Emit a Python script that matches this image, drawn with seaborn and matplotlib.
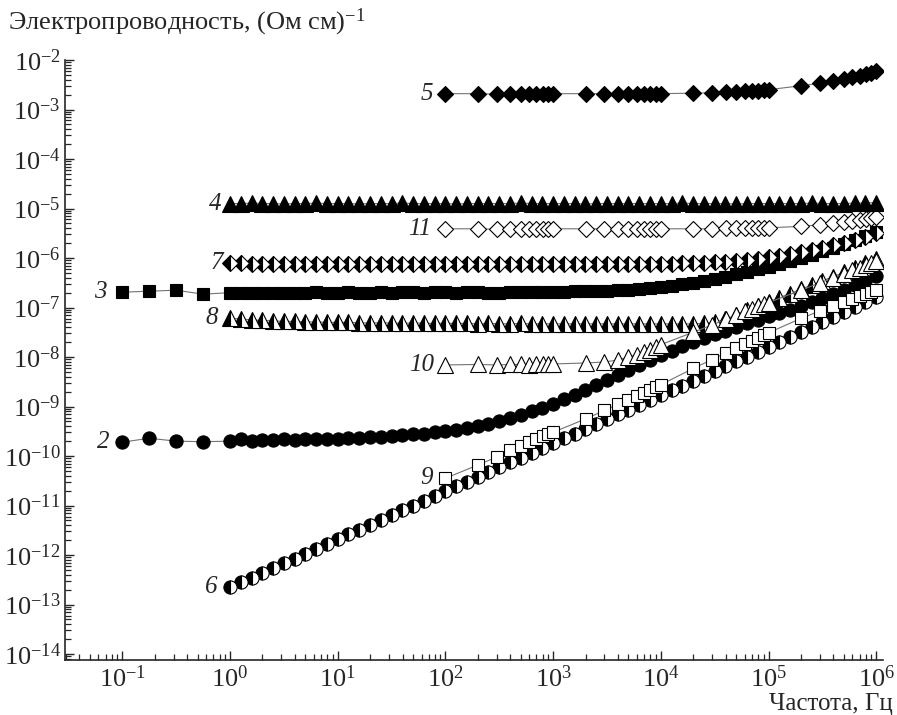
import numpy as np
import matplotlib
matplotlib.use('Agg')
import matplotlib.pyplot as plt
import matplotlib.ticker as mticker
import seaborn as sns
import pandas as pd

# частоты: низкочастотные точки, плотная сетка 10 точек/декада, сетка 1..9 x 10^n
f_low = [0.1, 0.178, 0.316, 0.562]
f_dense = np.logspace(0, 6, 61)
f_lin = [k * 10.0 ** n for n in range(2, 6) for k in range(1, 10)] + [1e6]

# lg(sigma), (Ом см)^-1
lg_s2_low = [-9.72, -9.64, -9.70, -9.71]
lg_s2 = [-9.70, -9.66, -9.69, -9.67, -9.68, -9.66, -9.67, -9.66, -9.65, -9.66,
         -9.65, -9.64, -9.64, -9.62, -9.62, -9.60, -9.58, -9.56, -9.55, -9.52,
         -9.50, -9.47, -9.44, -9.40, -9.35, -9.30, -9.24, -9.17, -9.10, -9.02,
         -8.94, -8.85, -8.76, -8.66, -8.56, -8.46, -8.36, -8.26, -8.16, -8.06,
         -7.96, -7.87, -7.78, -7.70, -7.62, -7.54, -7.47, -7.40, -7.32, -7.25,
         -7.18, -7.11, -7.04, -6.97, -6.89, -6.81, -6.73, -6.64, -6.55, -6.46, -6.37]
lg_s3_low = [-6.69, -6.67, -6.65, -6.73]
lg_s3 = [-6.70, -6.71, -6.70, -6.71, -6.70, -6.70, -6.71, -6.70, -6.69, -6.70,
         -6.70, -6.69, -6.70, -6.70, -6.69, -6.70, -6.69, -6.69, -6.70, -6.69,
         -6.69, -6.70, -6.69, -6.69, -6.70, -6.70, -6.69, -6.68, -6.68, -6.69,
         -6.68, -6.68, -6.67, -6.67, -6.66, -6.66, -6.65, -6.64, -6.62, -6.60,
         -6.58, -6.56, -6.53, -6.50, -6.46, -6.42, -6.38, -6.33, -6.28, -6.23,
         -6.18, -6.12, -6.06, -6.00, -5.93, -5.86, -5.79, -5.71, -5.63, -5.55, -5.47]
lg_s4 = [-4.90, -4.90, -4.89, -4.90, -4.90, -4.91, -4.90, -4.90, -4.89, -4.90,
         -4.90, -4.90, -4.91, -4.90, -4.90, -4.90, -4.89, -4.90, -4.90, -4.90,
         -4.90, -4.91, -4.90, -4.90, -4.90, -4.90, -4.90, -4.89, -4.90, -4.90,
         -4.90, -4.90, -4.90, -4.91, -4.90, -4.90, -4.90, -4.90, -4.90, -4.90,
         -4.90, -4.90, -4.89, -4.90, -4.90, -4.90, -4.90, -4.91, -4.90, -4.90,
         -4.90, -4.90, -4.90, -4.90, -4.89, -4.90, -4.90, -4.90, -4.89, -4.89, -4.88]
lg_s6 = [-12.65, -12.55, -12.46, -12.36, -12.26, -12.17, -12.07, -11.97, -11.88, -11.78,
         -11.68, -11.58, -11.49, -11.39, -11.29, -11.20, -11.10, -11.00, -10.91, -10.81,
         -10.71, -10.61, -10.52, -10.42, -10.32, -10.23, -10.13, -10.03, -9.94, -9.84,
         -9.74, -9.64, -9.55, -9.45, -9.35, -9.26, -9.16, -9.06, -8.97, -8.87,
         -8.77, -8.67, -8.58, -8.48, -8.38, -8.29, -8.19, -8.09, -7.99, -7.89,
         -7.79, -7.69, -7.59, -7.49, -7.39, -7.29, -7.19, -7.09, -6.99, -6.89, -6.79]
lg_s7 = [-6.10, -6.11, -6.12, -6.12, -6.12, -6.13, -6.12, -6.12, -6.13, -6.12,
         -6.12, -6.12, -6.13, -6.12, -6.12, -6.13, -6.12, -6.12, -6.12, -6.13,
         -6.12, -6.12, -6.13, -6.12, -6.12, -6.12, -6.13, -6.12, -6.12, -6.12,
         -6.12, -6.13, -6.12, -6.12, -6.12, -6.13, -6.12, -6.12, -6.12, -6.12,
         -6.12, -6.12, -6.11, -6.11, -6.10, -6.09, -6.08, -6.06, -6.04, -6.01,
         -5.98, -5.95, -5.92, -5.88, -5.84, -5.79, -5.74, -5.69, -5.63, -5.57, -5.50]
lg_s8 = [-7.22, -7.23, -7.25, -7.26, -7.27, -7.28, -7.28, -7.29, -7.29, -7.30,
         -7.30, -7.30, -7.31, -7.31, -7.31, -7.31, -7.32, -7.31, -7.32, -7.32,
         -7.32, -7.32, -7.32, -7.33, -7.32, -7.33, -7.33, -7.32, -7.33, -7.33,
         -7.33, -7.33, -7.33, -7.33, -7.33, -7.33, -7.33, -7.33, -7.33, -7.33,
         -7.33, -7.33, -7.33, -7.33, -7.32, -7.30, -7.24, -7.15, -7.06, -6.97,
         -6.89, -6.80, -6.72, -6.63, -6.55, -6.46, -6.38, -6.29, -6.20, -6.11, -6.02]
lg_s5 = [-2.68, -2.68, -2.69, -2.68, -2.68, -2.68, -2.69, -2.68, -2.68,
         -2.68, -2.68, -2.68, -2.69, -2.68, -2.68, -2.68, -2.68, -2.68,
         -2.68, -2.67, -2.66, -2.65, -2.64, -2.63, -2.62, -2.62, -2.61,
         -2.60, -2.52, -2.47, -2.43, -2.39, -2.35, -2.32, -2.29, -2.26,
         -2.23]
lg_s9 = [-10.45, -10.18, -10.02, -9.88, -9.80, -9.72, -9.66, -9.60, -9.56,
         -9.52, -9.25, -9.08, -8.95, -8.86, -8.78, -8.72, -8.66, -8.61,
         -8.56, -8.23, -8.05, -7.92, -7.82, -7.74, -7.67, -7.61, -7.56,
         -7.51, -7.22, -7.07, -6.96, -6.88, -6.82, -6.77, -6.72, -6.68,
         -6.65]
lg_s10 = [-8.16, -8.15, -8.16, -8.15, -8.15, -8.16, -8.15, -8.15, -8.14,
          -8.14, -8.12, -8.10, -8.06, -8.00, -7.95, -7.90, -7.85, -7.80,
          -7.75, -7.50, -7.35, -7.24, -7.15, -7.08, -7.02, -6.97, -6.93,
          -6.90, -6.65, -6.50, -6.40, -6.32, -6.25, -6.20, -6.15, -6.10,
          -6.06]
lg_s11 = [-5.41, -5.41, -5.42, -5.41, -5.41, -5.42, -5.41, -5.41, -5.41,
          -5.41, -5.41, -5.41, -5.42, -5.41, -5.41, -5.41, -5.42, -5.41,
          -5.41, -5.41, -5.41, -5.40, -5.40, -5.40, -5.40, -5.39, -5.39,
          -5.39, -5.36, -5.33, -5.30, -5.27, -5.25, -5.23, -5.21, -5.19,
          -5.17]

# (метка, частоты, lg sigma, маркер, заливка, сдвиг подписи в pt)
series = [
    ('6', list(f_dense), lg_s6, 'o', 'left', -9),
    ('2', f_low + list(f_dense), lg_s2_low + lg_s2, 'o', 'full', -9),
    ('9', f_lin, lg_s9, 's', 'none', -9),
    ('8', list(f_dense), lg_s8, '^', 'left', -9),
    ('10', f_lin, lg_s10, '^', 'none', -8),
    ('3', f_low + list(f_dense), lg_s3_low + lg_s3, 's', 'full', -11),
    ('7', list(f_dense), lg_s7, 'D', 'left', -5),
    ('11', f_lin, lg_s11, 'D', 'none', -10),
    ('4', list(f_dense), lg_s4, '^', 'full', -6),
    ('5', f_lin, lg_s5, 'D', 'full', -9),
]
msizes = {'o': 9.5, 's': 9.0, '^': 11.0, 'D': 7.8}

sns.set_style('ticks')
plt.rcParams['font.family'] = ['Liberation Serif', 'DejaVu Serif']
plt.rcParams['mathtext.fontset'] = 'custom'
plt.rcParams['mathtext.rm'] = 'Liberation Serif'
plt.rcParams['mathtext.it'] = 'Liberation Serif:italic'
plt.rcParams['mathtext.bf'] = 'Liberation Serif:bold'

fig = plt.figure(figsize=(8.97, 7.15), dpi=100)
ax = fig.add_axes([65 / 897, 55 / 715, 818 / 897, 600 / 715])
ax.set_xscale('log')
ax.set_yscale('log')

for lab, f, lg, mk, fill, dx in series:
    df = pd.DataFrame({'f': f, 's': 10.0 ** np.array(lg)})
    kw = dict(marker=mk, markersize=msizes[mk], markeredgecolor='k',
              markeredgewidth=0.8, linewidth=0.8, color='0.45')
    if fill == 'full':
        kw.update(markerfacecolor='k')
    elif fill == 'none':
        kw.update(markerfacecolor='w')
    else:
        kw.update(markerfacecolor='k', fillstyle='left', markerfacecoloralt='w')
    sns.lineplot(data=df, x='f', y='s', ax=ax, errorbar=None, **kw)
    ax.annotate(lab, xy=(df['f'].iloc[0], df['s'].iloc[0]), xytext=(dx, 0),
                textcoords='offset points', ha='right', va='center',
                fontsize=18, fontstyle='italic')

ax.set_xlim(10 ** -1.532, 10 ** 6.063)
ax.set_ylim(10 ** -14.12, 1e-2)
ax.set_xlabel('')
ax.set_ylabel('')

ax.set_xticks([10.0 ** k for k in range(-1, 7)])
ax.set_yticks([10.0 ** k for k in range(-14, -1)])
for axis in (ax.xaxis, ax.yaxis):
    axis.set_minor_locator(mticker.LogLocator(base=10, subs=np.arange(2, 10), numticks=200))
    axis.set_minor_formatter(mticker.NullFormatter())
ax.set_xlim(10 ** -1.532, 10 ** 6.063)
ax.set_ylim(10 ** -14.12, 1e-2)

ax.tick_params(which='major', direction='in', length=6.5, width=1, labelsize=19)
ax.tick_params(which='minor', direction='in', length=4.2, width=0.9)
ax.tick_params(axis='y', pad=3)
ax.tick_params(axis='x', pad=4)
for sp in ('top', 'right'):
    ax.spines[sp].set_visible(False)
for sp in ('left', 'bottom'):
    ax.spines[sp].set_linewidth(1.2)

fig.text(8 / 897, 1 - 22 / 715, 'Электропроводность, (Ом см)$^{-1}$',
         ha='left', va='center', fontsize=19)
fig.text(893 / 897, 1 - 704 / 715, 'Частота, Гц', ha='right', va='center', fontsize=18)

fig.savefig('out.png', dpi=100)
